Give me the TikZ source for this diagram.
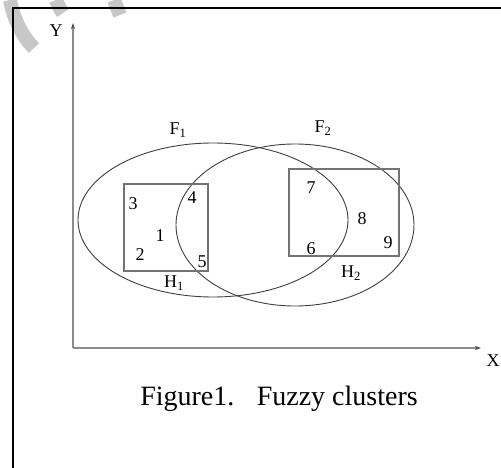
\documentclass[tikz,border=0pt]{standalone}
\usepackage{fontspec}
\setmainfont{Liberation Serif}
\usetikzlibrary{shapes.geometric,arrows.meta}
\begin{document}
\begin{tikzpicture}[x=1pt,y=-1pt,
  lbl/.style={inner sep=0pt,font=\fontsize{18}{18}\selectfont},
  clus/.style={ellipse,draw=black!75,line width=0.9pt,inner sep=0pt},
  hbox/.style={draw=black!55,line width=1.1pt,inner sep=0pt},
  axis/.style={draw=black!45,line width=1.4pt,-{Stealth[length=6pt,width=4pt,black!70]}},
  wm/.style={draw=black!22,line width=14pt,line cap=butt}]
\useasboundingbox (0,0) rectangle (501,468);
\fill[white] (0,0) rectangle (501,468);
% watermark fragments
\draw[wm] (10,0) .. controls (14,20) and (22,36) .. (34,48);
\draw[wm] (56,0) .. controls (58,5) and (60,9) .. (63,13);
\draw[wm] (114,0) .. controls (116,5) and (118,10) .. (120,15);
% frame
\draw[black,line width=2pt] (13,468) -- (13,8) -- (501,8);
% axes
\coordinate (O) at (73,348);
\coordinate (Ytip) at (73,23);
\coordinate (Xtip) at (481,348);
\draw[axis] (O) -- (Ytip);
\draw[axis] (O) -- (Xtip);
\node[lbl] (Y) at (56,31) {Y};
\node[lbl] (X) at (493,361) {X};
% clusters
\node[clus,minimum width=270pt,minimum height=154pt] (F1) at (213,220) {};
\node[clus,minimum width=238pt,minimum height=162pt] (F2) at (295,225) {};
\node[hbox,minimum width=84pt,minimum height=87pt] (H1) at (166,227.5) {};
\node[hbox,minimum width=110pt,minimum height=87pt] (H2) at (344,212.5) {};
% labels
\node[lbl] (F1l) at (178,130) {F\textsubscript{1}};
\node[lbl] (F2l) at (323,128) {F\textsubscript{2}};
\node[lbl] (H1l) at (174,283) {H\textsubscript{1}};
\node[lbl] (H2l) at (351,273) {H\textsubscript{2}};
\node[lbl] (p3) at (133,204) {3};
\node[lbl] (p4) at (192,198) {4};
\node[lbl] (p1) at (160,236) {1};
\node[lbl] (p2) at (140,255) {2};
\node[lbl] (p5) at (202,262) {5};
\node[lbl] (p7) at (311,188) {7};
\node[lbl] (p8) at (362,219) {8};
\node[lbl] (p6) at (311,249) {6};
\node[lbl] (p9) at (388,243) {9};
% caption
\node[inner sep=0pt,font=\fontsize{28}{28}\selectfont] (cap) at (279,399) {Figure1.\hspace{0.8em}Fuzzy clusters};
\end{tikzpicture}
\end{document}
